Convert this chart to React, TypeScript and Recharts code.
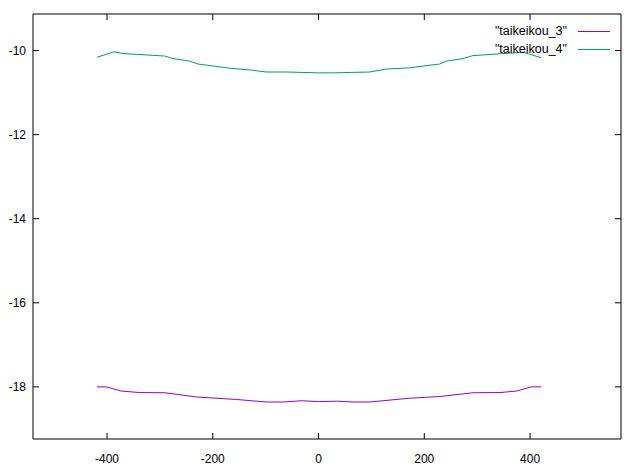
import { LineChart, Line, XAxis, YAxis } from "recharts";

// values
const taikeikou3X = [-419, -402, -373, -338, -291, -231, -155, -99, -67, -32, 0, 34, 65, 97, 172, 229, 292, 343, 374, 403, 421];
const taikeikou3Y = [-18.0, -18.0, -18.1, -18.135, -18.14, -18.24, -18.3, -18.36, -18.36, -18.33, -18.35, -18.34, -18.36, -18.36, -18.27, -18.23, -18.14, -18.135, -18.1, -18.0, -18.0];

const taikeikou4X = [-419, -387, -370, -291, -275, -244, -228, -168, -130, -99, -60, -30, 0, 30, 60, 97, 128, 172, 229, 242, 273, 292, 387, 421];
const taikeikou4Y = [-10.16, -10.03, -10.07, -10.13, -10.19, -10.25, -10.32, -10.42, -10.46, -10.51, -10.51, -10.52, -10.53, -10.53, -10.52, -10.51, -10.44, -10.41, -10.32, -10.25, -10.19, -10.12, -10.04, -10.17];

const xTicks = [-400, -200, 0, 200, 400];
const yTicks = [-10, -12, -14, -16, -18];

const series3 = taikeikou3X.map((x, i) => ({ x, y: taikeikou3Y[i] }));
const series4 = taikeikou4X.map((x, i) => ({ x, y: taikeikou4Y[i] }));

const FONT = "'Liberation Sans', Arial, sans-serif";

const BottomTick = ({ x, y, payload }: any) => (
  <g>
    <line x1={x} y1={y} x2={x} y2={y - 6} stroke="#000" />
    <text x={x} y={y + 24} textAnchor="middle" fontSize={12} fontFamily={FONT} fill="#000">
      {payload.value}
    </text>
  </g>
);

const TopTick = ({ x, y }: any) => <line x1={x} y1={y} x2={x} y2={y + 6} stroke="#000" />;

const LeftTick = ({ x, y, payload }: any) => (
  <g>
    <line x1={x} y1={y} x2={x + 6} y2={y} stroke="#000" />
    <text x={x - 7} y={y + 4} textAnchor="end" fontSize={12} fontFamily={FONT} fill="#000">
      {payload.value}
    </text>
  </g>
);

const RightTick = ({ x, y }: any) => <line x1={x} y1={y} x2={x - 6} y2={y} stroke="#000" />;

function LegendRow({ label, color, top }: { label: string; color: string; top: number }) {
  return (
    <div style={{ position: "absolute", top: top - 8, right: 631 - 610, display: "flex", alignItems: "center", height: 16 }}>
      <span style={{ fontFamily: FONT, fontSize: 12.5, color: "#000", marginRight: 11 }}>{label}</span>
      <span style={{ display: "inline-block", width: 32, height: 1, background: color }} />
    </div>
  );
}

export default function App() {
  return (
    <div style={{ position: "absolute", left: 0, top: 0, width: 631, height: 472, background: "#fff" }}>
      <LineChart width={631} height={472} margin={{ top: 13, right: 9, left: 32, bottom: 32 }}>
        <XAxis
          xAxisId="bottom"
          type="number"
          dataKey="x"
          domain={[-540, 572]}
          ticks={xTicks}
          interval={0}
          height={1}
          tickSize={0}
          tickMargin={0}
          axisLine={{ stroke: "#000" }}
          tick={<BottomTick />}
          allowDataOverflow
        />
        <XAxis
          xAxisId="top"
          orientation="top"
          type="number"
          dataKey="x"
          domain={[-540, 572]}
          ticks={xTicks}
          interval={0}
          height={1}
          tickSize={0}
          tickMargin={0}
          axisLine={{ stroke: "#000" }}
          tick={<TopTick />}
          allowDataOverflow
        />
        <YAxis
          yAxisId="left"
          type="number"
          domain={[-19.24, -9.13]}
          ticks={yTicks}
          interval={0}
          width={1}
          tickSize={0}
          tickMargin={0}
          axisLine={{ stroke: "#000" }}
          tick={<LeftTick />}
          allowDataOverflow
        />
        <YAxis
          yAxisId="right"
          orientation="right"
          type="number"
          domain={[-19.24, -9.13]}
          ticks={yTicks}
          interval={0}
          width={1}
          tickSize={0}
          tickMargin={0}
          axisLine={{ stroke: "#000" }}
          tick={<RightTick />}
          allowDataOverflow
        />
        <Line
          xAxisId="bottom"
          yAxisId="left"
          data={series3}
          dataKey="y"
          type="linear"
          stroke="#9400d3"
          strokeWidth={1}
          dot={false}
          isAnimationActive={false}
        />
        <Line
          xAxisId="bottom"
          yAxisId="left"
          data={series4}
          dataKey="y"
          type="linear"
          stroke="#009e73"
          strokeWidth={1}
          dot={false}
          isAnimationActive={false}
        />
      </LineChart>
      <LegendRow label={'"taikeikou_3"'} color="#9400d3" top={31} />
      <LegendRow label={'"taikeikou_4"'} color="#009e73" top={49} />
    </div>
  );
}
